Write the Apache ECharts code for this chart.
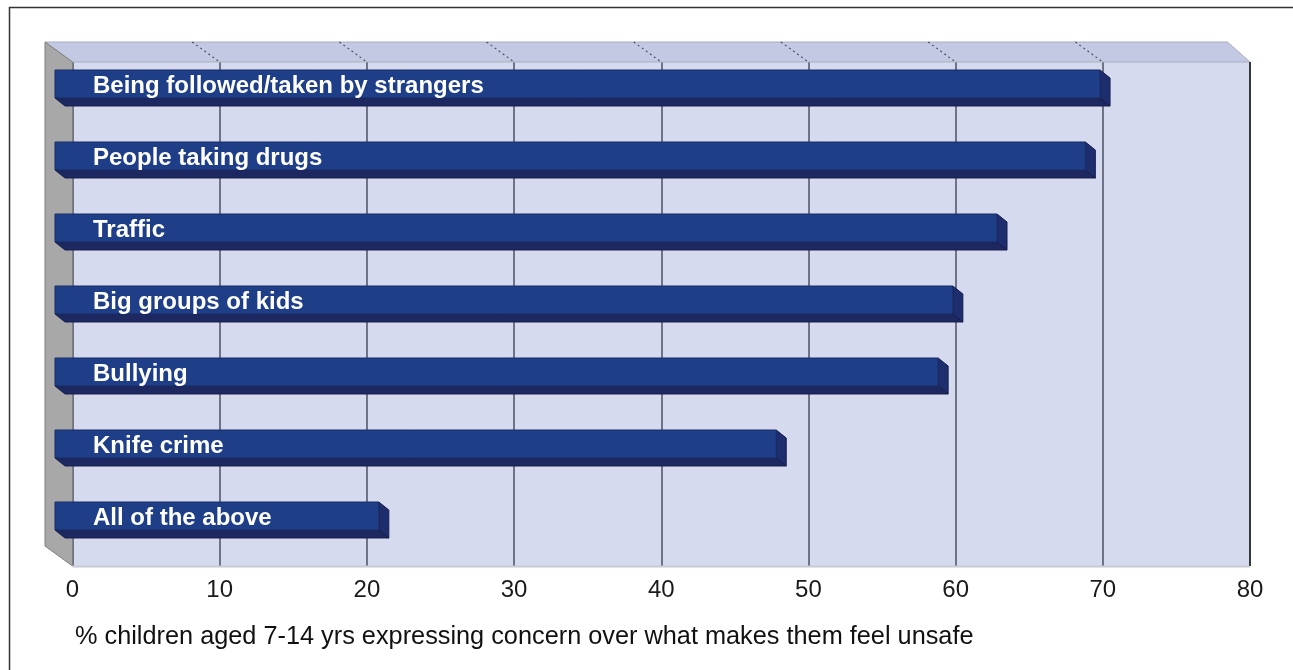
<!DOCTYPE html>
<html><head><meta charset="utf-8">
<script src="https://cdn.jsdelivr.net/npm/echarts@6/dist/echarts.min.js"></script>
<style>html,body{margin:0;padding:0;background:#fff}#c{width:1293px;height:670px}</style>
</head><body><div id="c"></div>
<script>
const categories = ["Being followed/taken by strangers","People taking drugs","Traffic","Big groups of kids","Bullying","Knife crime","All of the above"];
const values = [71, 70, 64, 61, 60, 49, 22];
const tickValues = [0,10,20,30,40,50,60,70,80];
const axisTitle = "% children aged 7-14 yrs expressing concern over what makes them feel unsafe";

const G = {left:72.5, top:62, right:1293-1250, bottom:670-566};
const DEPTH = {dx:27.5, dy:20};
const BAR_SHIFT = {dx:17.5, dy:14};
const FONT = 'Liberation Sans, Arial, sans-serif';

const chart = echarts.init(document.getElementById('c'), null, {renderer:'canvas'});
const option = {
  animation:false,
  backgroundColor:'#ffffff',
  grid:[
    {left:G.left, top:G.top, right:G.right, bottom:G.bottom, show:true, backgroundColor:'#d6daee', borderWidth:0},
    {left:G.left-BAR_SHIFT.dx, top:G.top-BAR_SHIFT.dy, right:G.right+BAR_SHIFT.dx, bottom:G.bottom+BAR_SHIFT.dy, show:false}
  ],
  xAxis:[
    {gridIndex:0, type:'value', min:0, max:80, interval:10,
     axisLine:{show:false}, axisTick:{show:false},
     axisLabel:{fontSize:24, color:'#1a1a1a', margin:12, fontFamily:FONT},
     splitLine:{show:true, lineStyle:{color:'#4c5066', width:1.5}}},
    {gridIndex:1, type:'value', min:0, max:80, interval:10, show:false, splitLine:{show:false}}
  ],
  yAxis:[
    {gridIndex:0, type:'category', data:categories, inverse:true, show:false},
    {gridIndex:1, type:'category', data:categories, inverse:true, show:false}
  ],
  graphic:[
    {type:'rect', shape:{x:9.5, y:7.5, width:1400, height:800}, style:{fill:'none', stroke:'#333', lineWidth:1.5}, z:-10},
    {type:'polygon', shape:{points:[[G.left-DEPTH.dx,G.top-DEPTH.dy],[1250-DEPTH.dx+5,G.top-DEPTH.dy],[1250,G.top],[G.left,G.top]]},
     style:{fill:'#c4c9e3', stroke:'#a9adc0', lineWidth:1}, z:1},
    {type:'polygon', shape:{points:[[G.left-DEPTH.dx,G.top-DEPTH.dy],[G.left,G.top],[G.left,566],[G.left-DEPTH.dx,566-DEPTH.dy]]},
     style:{fill:'#a8a8a8', stroke:'#7e7e7e', lineWidth:1}, z:1},
    {type:'line', shape:{x1:G.left, y1:566.5, x2:1250, y2:566.5}, style:{stroke:'#c8cad4', lineWidth:2}, z:1},
    {type:'line', shape:{x1:1250, y1:G.top, x2:1250, y2:566}, style:{stroke:'#222', lineWidth:1.5}, z:1},
    {type:'text', left:75, top:625, style:{text:axisTitle, fontSize:25.3, fill:'#111', fontFamily:FONT}}
  ],
  series:[
    {type:'custom', xAxisIndex:0, yAxisIndex:0, z:2,
     data: tickValues.slice(1, -1).map(t => [t, 0]),
     renderItem(params, api){
       const x = api.coord([api.value(0), 0])[0];
       const top = params.coordSys.y;
       return {type:'line', shape:{x1:x-DEPTH.dx, y1:top-DEPTH.dy, x2:x, y2:top},
               style:{stroke:'#4c5066', lineWidth:1.2, lineDash:[2,3]}};
     }},
    {type:'custom', xAxisIndex:1, yAxisIndex:1, z:5,
     data: values.map((v,i) => [v, i]),
     renderItem(params, api){
       const v = api.value(0), c = api.value(1);
       const p0 = api.coord([0, c]), p1 = api.coord([v, c]);
       const h = 28, dx = 10, dy = 8;
       const x0 = p0[0], x1 = p1[0], yT = p0[1] - h/2, yB = yT + h;
       return {type:'group', children:[
         {type:'polygon', shape:{points:[[x0,yB],[x1,yB],[x1+dx,yB+dy],[x0+dx,yB+dy]]}, style:{fill:'#1d2860', stroke:'#182050', lineWidth:1}},
         {type:'polygon', shape:{points:[[x1,yT],[x1+dx,yT+dy],[x1+dx,yB+dy],[x1,yB]]}, style:{fill:'#1e2d6e', stroke:'#141c48', lineWidth:1}},
         {type:'rect', shape:{x:x0, y:yT, width:x1-x0, height:h}, style:{fill:'#1f3e88', stroke:'#1a2c66', lineWidth:1}},
         {type:'text', x:x0+38, y:(yT+yB)/2 + 2, style:{text:categories[c], fill:'#ffffff', fontSize:24, fontWeight:'bold', fontFamily:FONT, verticalAlign:'middle', align:'left'}}
       ]};
     }}
  ]
};
chart.setOption(option);
</script></body></html>
